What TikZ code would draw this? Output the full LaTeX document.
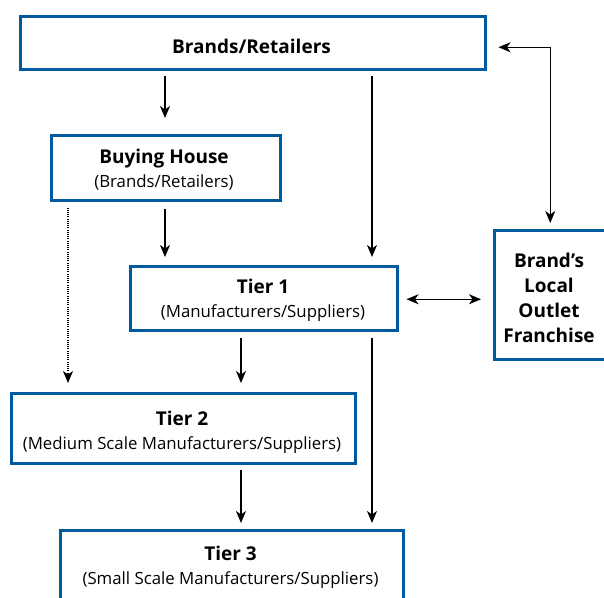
\documentclass[tikz,border=0pt]{standalone}
\usepackage{fontspec}
\setmainfont{Open Sans}
\usetikzlibrary{arrows.meta}
\definecolor{boxblue}{RGB}{0,90,160}
\newcommand{\ttlfont}{\fontsize{19}{24}\selectfont\bfseries}
\begin{document}
\begin{tikzpicture}[x=1pt,y=-1pt,
  box/.style={draw=boxblue,line width=2.5pt,inner sep=0pt,anchor=north west},
  txt/.style={inner sep=0pt,align=center,font=\fontsize{16.8}{24}\selectfont},
  arr/.style={line width=1.2pt,-{Stealth[length=12pt,width=10pt,inset=3.5pt]}},
  darr/.style={line width=1.2pt,{Stealth[length=12pt,width=10pt,inset=3.5pt]}-{Stealth[length=12pt,width=10pt,inset=3.5pt]}},
  dotarr/.style={line width=1.1pt,dash pattern=on 1.1pt off 1.1pt,-{Stealth[length=12pt,width=10pt,inset=3.5pt]}}]
\useasboundingbox (0,0) rectangle (604,597);
\clip (0,0) rectangle (604,597);
% boxes
\node[box,minimum width=465pt,minimum height=53pt] (br) at (19,15) {};
\node[box,minimum width=229pt,minimum height=65pt] (bh) at (50,134) {};
\node[box,minimum width=267pt,minimum height=64pt] (t1) at (129,265) {};
\node[box,minimum width=117pt,minimum height=129pt] (fr) at (493,229) {};
\node[box,minimum width=344pt,minimum height=70pt] (t2) at (10,392) {};
\node[box,minimum width=343pt,minimum height=80pt] (t3) at (59,529) {};
% texts
\node[txt,font=\ttlfont] (brt) at (251.5,46) {Brands/Retailers};
\node[txt] (bht) at (164,169.5) {{\ttlfont Buying House}\\(Brands/Retailers)};
\node[txt] (t1t) at (263,300.5) {{\ttlfont Tier 1}\\(Manufacturers/Suppliers)};
\node[txt,font=\fontsize{19}{25}\selectfont\bfseries] (frt) at (549,297.5) {Brand’s\\Local\\Outlet\\Franchise};
\node[txt] (t2t) at (182,432) {{\ttlfont Tier 2}\\(Medium Scale Manufacturers/Suppliers)};
\node[txt] (t3t) at (230.5,567.5) {{\ttlfont Tier 3}\\(Small Scale Manufacturers/Suppliers)};
% connectors
\coordinate (t1e) at ([xshift=8pt,yshift=-1pt]t1.east);
\coordinate (bre) at ([xshift=12pt,yshift=-4.5pt]br.east);
\coordinate (frn) at ([xshift=-2.5pt]fr.north);
\coordinate (cx165) at (165,0);
\coordinate (cx372) at (372,0);
\coordinate (cx241) at (241,0);
\coordinate (cx68) at (68,0);
\draw[arr] ([yshift=-5pt]br.south -| cx165) -- ([yshift=16pt]bh.north -| cx165);
\draw[arr] ([yshift=-5pt]br.south -| cx372) -- ([yshift=8pt]t1.north -| cx372);
\draw[arr] ([yshift=-7pt]bh.south -| cx165) -- ([yshift=8pt]t1.north -| cx165);
\draw[dotarr] ([yshift=-6pt]bh.south -| cx68) -- ([yshift=9pt]t2.north -| cx68);
\draw[arr] ([yshift=-6pt]t1.south -| cx241) -- ([yshift=9pt]t2.north -| cx241);
\draw[arr] ([yshift=-6pt]t1.south -| cx372) -- ([yshift=6pt]t3.north -| cx372);
\draw[arr] ([yshift=-5pt]t2.south -| cx241) -- ([yshift=6pt]t3.north -| cx241);
\draw[darr] (bre) -- (bre -| frn) -- ([yshift=6pt]frn);
\draw[darr] (t1e) -- ([xshift=-12pt]fr.west |- t1e);
\end{tikzpicture}
\end{document}
